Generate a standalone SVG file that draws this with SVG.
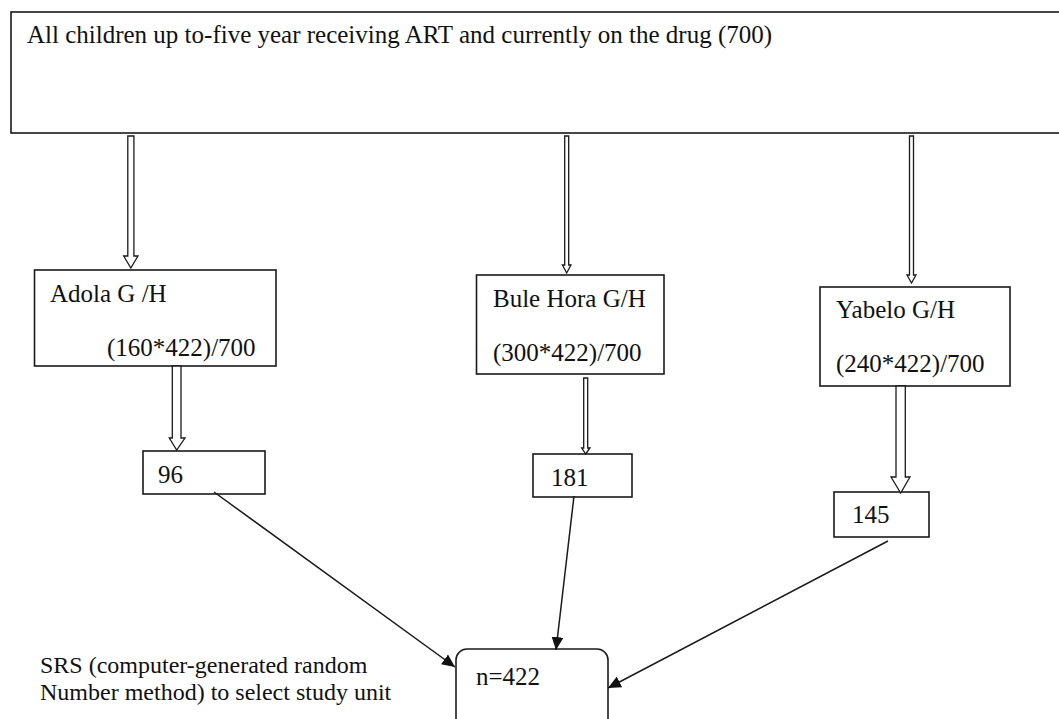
<svg xmlns="http://www.w3.org/2000/svg" width="1059" height="719" viewBox="0 0 1059 719">
<defs>
<style>
.box{fill:#fff;stroke:#1a1a1a;stroke-width:1.6}
.blk{fill:#fff;stroke:#1a1a1a;stroke-width:1.3;stroke-linejoin:miter}
.ln{fill:none;stroke:#1a1a1a;stroke-width:1.5}
.t{font-family:"Liberation Serif","Times New Roman",serif;font-size:25px;fill:#111}
.s{font-family:"Liberation Serif","Times New Roman",serif;font-size:24px;fill:#111}
</style>
<marker id="ah" markerUnits="userSpaceOnUse" markerWidth="14" markerHeight="12" refX="13" refY="6" orient="auto">
<path d="M0,0 L13,6 L0,12 Z" fill="#111"/>
</marker>
</defs>
<rect width="1059" height="719" fill="#fff"/>

<g id="top">
<rect class="box" x="11" y="12" width="1060" height="121"/>
<text class="t" x="27" y="43">All children up to-five year receiving ART and currently on the drug (700)</text>
</g>

<g id="adola">
<rect class="box" x="34.5" y="270" width="241.5" height="96"/>
<text class="t" x="50" y="302">Adola G /H</text>
<text class="t" x="107" y="356">(160*422)/700</text>
</g>

<g id="bule">
<rect class="box" x="476.5" y="275" width="187.5" height="99"/>
<text class="t" x="493" y="307">Bule Hora G/H</text>
<text class="t" x="493" y="361">(300*422)/700</text>
</g>

<g id="yabelo">
<rect class="box" x="820" y="287" width="190" height="99"/>
<text class="t" x="836" y="318">Yabelo G/H</text>
<text class="t" x="836" y="372">(240*422)/700</text>
</g>

<g id="n96">
<rect class="box" x="143" y="451" width="122" height="43"/>
<text class="t" x="158" y="483">96</text>
</g>

<g id="n181">
<rect class="box" x="533" y="454" width="99" height="43"/>
<text class="t" x="551" y="486">181</text>
</g>

<g id="n145">
<rect class="box" x="834" y="492" width="95" height="45"/>
<text class="t" x="852" y="523">145</text>
</g>

<g id="total">
<rect class="box" x="456" y="649" width="152" height="90" rx="11" ry="11"/>
<text class="t" x="476" y="685">n=422</text>
</g>

<g id="note">
<text class="s" x="40" y="673">SRS (computer-generated random</text>
<text class="s" x="40" y="700">Number method) to select study unit</text>
</g>

<g id="connectors">
<path class="blk" d="M127.8,136 L127.8,256 L123.7,256 L130.8,268 L138,256 L133.9,256 L133.9,136 Z"/>
<path class="blk" d="M564.7,136 L564.7,265 L562.4,265 L566.7,273 L571,265 L568.7,265 L568.7,136 Z"/>
<path class="blk" d="M909.5,136 L909.5,275 L907,275 L911.5,283 L916,275 L913.5,275 L913.5,136 Z"/>
<path class="blk" d="M172.3,366 L172.3,438 L169.3,438 L176.7,450 L185,438 L181,438 L181,366 Z"/>
<path class="blk" d="M583.7,378 L583.7,448 L581.7,448 L585.7,454 L590,448 L587.7,448 L587.7,378 Z"/>
<path class="blk" d="M896,386 L896,477 L891,477 L900.7,493 L910,477 L905.3,477 L905.3,386 Z"/>
<line class="ln" x1="214" y1="492" x2="455" y2="667" marker-end="url(#ah)"/>
<line class="ln" x1="574" y1="496" x2="556" y2="650" marker-end="url(#ah)"/>
<line class="ln" x1="888" y1="541" x2="608" y2="688" marker-end="url(#ah)"/>
</g>
</svg>
